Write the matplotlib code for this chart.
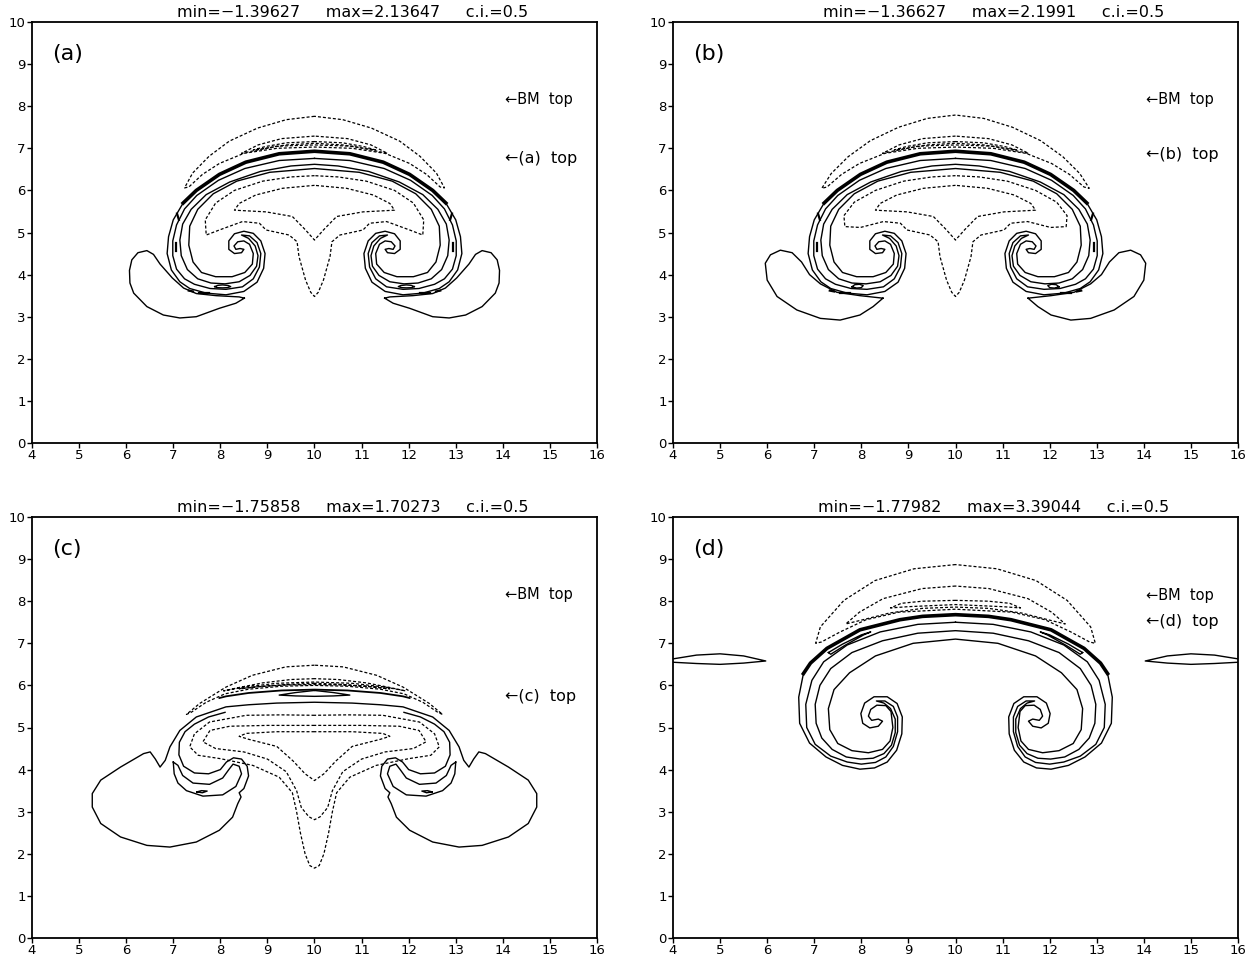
import matplotlib
matplotlib.use("Agg")
import matplotlib.pyplot as plt

XC = 10.0  # symmetry axis of every panel

# ---------------- panel titles / labels ----------------
panel_tags = ["(a)", "(b)", "(c)", "(d)"]
panel_min = ["−1.39627", "−1.36627", "−1.75858", "−1.77982"]
panel_max = ["2.13647", "2.1991", "1.70273", "3.39044"]
panel_ci = ["0.5", "0.5", "0.5", "0.5"]
bm_top_y = [8.15, 8.15, 8.15, 8.14]
own_top_y = [6.75, 6.85, 5.74, 7.52]
x_ticks = list(range(4, 17))
y_ticks = list(range(0, 11))

# ---------------- panel (a) ----------------
# closed symmetric contours: left half from centre (outer) round to centre (inner)
A_P = [(10, 6.93), (9.25, 6.87), (8.54, 6.67), (7.98, 6.38), (7.49, 6.0), (7.21, 5.7),
       (7.0, 5.3), (6.9, 4.9), (6.87, 4.5), (6.96, 4.11), (7.14, 3.83), (7.35, 3.67),
       (7.7, 3.56), (8.12, 3.52), (8.5, 3.6), (8.78, 3.82), (8.92, 4.15), (8.95, 4.5),
       (8.86, 4.8), (8.7, 4.98), (8.5, 5.03), (8.3, 4.97), (8.18, 4.8), (8.18, 4.6),
       (8.3, 4.5), (8.45, 4.52), (8.5, 4.6), (8.42, 4.62), (8.33, 4.6), (8.29, 4.68),
       (8.37, 4.78), (8.5, 4.8), (8.62, 4.72), (8.7, 4.5), (8.68, 4.25), (8.52, 4.05),
       (8.25, 3.95), (7.9, 3.95), (7.6, 4.05), (7.42, 4.3), (7.33, 4.7), (7.35, 5.15),
       (7.52, 5.55), (7.85, 5.92), (8.35, 6.22), (9.05, 6.43), (10, 6.52)]
A_Q = [(10, 6.76), (9.25, 6.71), (8.52, 6.52), (7.96, 6.24), (7.5, 5.88), (7.24, 5.56),
       (7.07, 5.18), (6.99, 4.8), (6.99, 4.45), (7.07, 4.13), (7.24, 3.9), (7.45, 3.77),
       (7.78, 3.67), (8.12, 3.65), (8.47, 3.71), (8.7, 3.9), (8.83, 4.18), (8.86, 4.5),
       (8.78, 4.76), (8.62, 4.92), (8.45, 4.94), (8.6, 4.86), (8.74, 4.68), (8.8, 4.45),
       (8.77, 4.2), (8.63, 3.98), (8.4, 3.83), (8.1, 3.78), (7.8, 3.8), (7.52, 3.9),
       (7.3, 4.12), (7.17, 4.45), (7.14, 4.82), (7.2, 5.2), (7.38, 5.55), (7.7, 5.9),
       (8.2, 6.2), (8.85, 6.45), (9.5, 6.58), (10, 6.62)]
A_THICK_N = 6
A_D1 = [(10, 7.76), (9.4, 7.68), (8.79, 7.48), (8.19, 7.17), (7.76, 6.81), (7.41, 6.41),
        (7.24, 6.06), (7.33, 6.08), (7.62, 6.38), (7.98, 6.64), (8.5, 6.88), (9.2, 7.0),
        (10, 7.03)]
A_D2 = [(10, 7.29), (9.3, 7.23), (8.8, 7.08), (8.45, 6.88), (8.62, 6.92), (9.2, 7.05),
        (10, 7.08)]
A_D3 = [(10, 7.16), (9.4, 7.13), (8.95, 7.04), (8.7, 6.96), (8.9, 6.99), (9.4, 7.08),
        (10, 7.12)]
A_STEM = [(10, 6.35), (9.5, 6.32), (8.9, 6.22), (8.3, 6.0), (7.9, 5.7), (7.68, 5.3),
          (7.70, 4.94), (7.98, 5.06), (8.47, 5.26), (8.83, 5.22), (8.97, 5.06),
          (9.46, 4.94), (9.63, 4.78), (9.67, 4.43), (9.81, 3.87), (9.92, 3.58), (10, 3.48)]
A_CUP = [(10, 6.12), (9.32, 6.05), (8.75, 5.89), (8.4, 5.69), (8.30, 5.53), (8.97, 5.49),
         (9.53, 5.38), (9.81, 5.06), (10, 4.82)]
# left-side features (mirrored to the right)
A_WING = [(8.51, 3.44), (8.40, 3.47), (7.91, 3.5), (7.49, 3.55), (7.22, 3.68), (6.98, 3.92),
          (6.72, 4.25), (6.58, 4.48), (6.44, 4.57), (6.25, 4.52), (6.12, 4.35), (6.07, 4.1),
          (6.08, 3.8), (6.16, 3.56), (6.44, 3.24), (6.79, 3.04), (7.14, 2.97), (7.49, 3.0),
          (7.98, 3.2), (8.33, 3.32), (8.51, 3.44)]
A_BLOB = [(7.88, 3.715), (7.95, 3.745), (8.05, 3.755), (8.17, 3.74), (8.22, 3.715),
          (8.15, 3.69), (8.05, 3.685), (7.93, 3.69), (7.88, 3.715)]
A_DASH_BITS = [[(7.33, 3.62), (7.42, 3.6)], [(7.55, 3.57), (7.75, 3.57)],
               [(7.08, 5.45), (7.12, 5.3)], [(7.05, 4.75), (7.05, 4.55)]]

# ---------------- panel (b) ----------------
B_D1 = [(10, 7.79), (9.4, 7.71), (8.79, 7.5), (8.19, 7.18), (7.72, 6.8), (7.36, 6.4),
        (7.16, 6.05), (7.27, 6.08), (7.58, 6.38), (7.96, 6.64), (8.5, 6.88), (9.2, 7.0),
        (10, 7.03)]
B_STEM = [(10, 6.35), (9.5, 6.32), (8.9, 6.22), (8.3, 6.0), (7.85, 5.72), (7.63, 5.4),
          (7.65, 5.14), (7.98, 5.12), (8.47, 5.26), (8.83, 5.22), (8.97, 5.06),
          (9.46, 4.94), (9.63, 4.78), (9.67, 4.43), (9.81, 3.87), (9.92, 3.58), (10, 3.48)]
B_WING = [(8.46, 3.44), (7.97, 3.5), (7.48, 3.58), (7.13, 3.78), (6.9, 4.0), (6.73, 4.3),
          (6.53, 4.52), (6.28, 4.58), (6.07, 4.47), (5.96, 4.27), (6.0, 3.87), (6.21, 3.48),
          (6.63, 3.16), (7.13, 2.96), (7.55, 2.92), (7.97, 3.04), (8.25, 3.24), (8.46, 3.44)]
B_BLOB = [(7.8, 3.71), (7.86, 3.76), (7.96, 3.77), (8.04, 3.74), (8.0, 3.69), (7.9, 3.68),
          (7.8, 3.71)]

# ---------------- panel (c) ----------------
# open symmetric stroke: left half from centre outwards
C_MAIN = [(10, 5.6), (9.2, 5.58), (8.6, 5.54), (8.12, 5.49), (7.49, 5.25), (7.14, 4.93),
          (6.93, 4.54), (6.83, 4.22), (6.72, 4.06), (6.62, 4.25), (6.51, 4.42), (6.37, 4.38),
          (5.88, 4.06), (5.46, 3.75), (5.28, 3.43), (5.28, 3.11), (5.46, 2.72), (5.88, 2.4),
          (6.44, 2.2), (6.93, 2.16), (7.49, 2.28), (7.98, 2.56), (8.26, 2.87), (8.37, 3.19),
          (8.44, 3.35), (8.4, 3.45), (8.5, 3.55), (8.6, 3.85), (8.57, 4.08), (8.45, 4.25),
          (8.28, 4.28), (8.13, 4.18), (8.0, 4.0), (7.75, 3.9), (7.45, 3.92), (7.22, 4.08),
          (7.12, 4.35), (7.13, 4.65), (7.25, 4.9), (7.45, 5.08), (7.75, 5.25), (8.1, 5.36)]
C_UPPER = [(10, 5.9), (9.3, 5.88), (8.6, 5.82), (8.12, 5.74), (7.98, 5.7)]
C_LENS = [(10, 5.88), (9.6, 5.83), (9.25, 5.77), (9.6, 5.75), (10, 5.74)]
C_CRESCENT = [(7.0, 4.18), (7.02, 3.9), (7.1, 3.68), (7.28, 3.5), (7.63, 3.37), (8.05, 3.4),
              (8.33, 3.6), (8.45, 3.9), (8.4, 4.08), (8.27, 4.13), (8.18, 4.0), (8.05, 3.8),
              (7.77, 3.65), (7.42, 3.68), (7.2, 3.86), (7.1, 4.1), (7.0, 4.18)]
C_BLOB = [(7.5, 3.47), (7.6, 3.5), (7.72, 3.49), (7.62, 3.45), (7.5, 3.47)]
C_D1 = [(10, 6.48), (9.39, 6.44), (8.68, 6.24), (8.12, 5.96), (7.56, 5.57), (7.28, 5.31),
        (7.38, 5.36), (7.7, 5.6), (8.1, 5.8), (8.6, 5.91), (9.3, 5.98), (10, 6.0)]
C_D2 = [(10, 6.16), (9.5, 6.14), (8.9, 6.06), (8.4, 5.95), (8.07, 5.87), (8.5, 5.96),
        (9.2, 6.05), (10, 6.08)]
C_D3 = [(10, 6.05), (9.5, 6.03), (8.9, 5.98), (8.4, 5.92), (8.8, 5.97), (9.4, 6.01),
        (10, 6.02)]
C_STEM = [(10, 5.29), (9.3, 5.3), (8.55, 5.29), (7.77, 5.13), (7.45, 4.85), (7.35, 4.54),
          (7.53, 4.34), (8.0, 4.26), (8.69, 4.1), (9.25, 3.82), (9.53, 3.45), (9.62, 3.0),
          (9.7, 2.5), (9.8, 2.0), (9.9, 1.72), (10, 1.66)]
C_MID = [(10, 5.05), (9.0, 5.05), (8.2, 5.03), (7.78, 4.93), (7.63, 4.66), (7.9, 4.5),
         (8.5, 4.42), (9.0, 4.25), (9.4, 3.95), (9.62, 3.5), (9.72, 3.1), (9.88, 2.88),
         (10, 2.81)]
C_INNER = [(10, 4.9), (9.2, 4.9), (8.55, 4.86), (8.4, 4.79), (8.6, 4.72), (9.2, 4.55),
           (9.55, 4.2), (9.8, 3.9), (10, 3.74)]

# ---------------- panel (d) ----------------
D_P = [(10, 7.68), (9.3, 7.64), (8.82, 7.56), (7.97, 7.32), (7.27, 6.88), (6.92, 6.53),
       (6.77, 6.28), (6.67, 5.72), (6.69, 5.1), (6.9, 4.63), (7.25, 4.3), (7.6, 4.1),
       (7.97, 4.01), (8.28, 4.04), (8.55, 4.18), (8.75, 4.46), (8.86, 4.85), (8.87, 5.25),
       (8.76, 5.57), (8.55, 5.73), (8.27, 5.73), (8.07, 5.58), (7.99, 5.33), (8.03, 5.1),
       (8.18, 4.99), (8.36, 5.03), (8.45, 5.15), (8.36, 5.2), (8.22, 5.17), (8.15, 5.27),
       (8.2, 5.43), (8.33, 5.53), (8.52, 5.52), (8.63, 5.38), (8.67, 5.0), (8.61, 4.68),
       (8.45, 4.48), (8.15, 4.4), (7.8, 4.45), (7.5, 4.62), (7.33, 4.95), (7.3, 5.45),
       (7.42, 5.9), (7.75, 6.3), (8.3, 6.7), (9.1, 7.0), (10, 7.1)]
D_Q = [(10, 7.5), (9.2, 7.45), (8.4, 7.27), (7.7, 6.96), (7.2, 6.56), (6.95, 6.12),
       (6.82, 5.55), (6.84, 5.0), (7.02, 4.6), (7.35, 4.32), (7.7, 4.18), (8.0, 4.13),
       (8.3, 4.17), (8.52, 4.3), (8.68, 4.55), (8.77, 4.9), (8.77, 5.25), (8.68, 5.5),
       (8.5, 5.63), (8.32, 5.63), (8.48, 5.58), (8.62, 5.45), (8.72, 5.2), (8.72, 4.88),
       (8.64, 4.58), (8.48, 4.38), (8.25, 4.27), (7.98, 4.25), (7.68, 4.3), (7.38, 4.48),
       (7.16, 4.75), (7.04, 5.1), (7.02, 5.55), (7.12, 6.0), (7.35, 6.4), (7.8, 6.78),
       (8.45, 7.06), (9.2, 7.24), (10, 7.3)]
D_THICK_N = 7
D_LENS = [(7.3, 6.78), (7.6, 6.98), (8.0, 7.2), (8.2, 7.27), (8.05, 7.2), (7.65, 6.95),
          (7.35, 6.74), (7.3, 6.78)]
D_SIDE = [(4.0, 6.63), (4.5, 6.72), (5.0, 6.75), (5.5, 6.7), (5.97, 6.58), (5.5, 6.53),
          (5.0, 6.5), (4.5, 6.52), (4.0, 6.55)]
D_D1 = [(10, 8.87), (9.12, 8.77), (8.29, 8.49), (7.63, 8.02), (7.13, 7.39), (7.03, 7.0),
        (7.15, 7.03), (7.55, 7.27), (8.1, 7.56), (8.8, 7.74), (10, 7.81)]
D_D2 = [(10, 8.36), (9.29, 8.3), (8.46, 8.06), (7.96, 7.74), (7.67, 7.46), (8.0, 7.55),
        (8.6, 7.72), (9.3, 7.83), (10, 7.86)]
D_D3 = [(10, 8.02), (9.3, 8.0), (8.85, 7.95), (8.62, 7.84), (9.0, 7.87), (9.6, 7.9),
        (10, 7.92)]

# ---------------- helpers ----------------
def mirror(pts):
    return [(2 * XC - x, y) for x, y in pts]


def sym_closed(half):
    return half + mirror(half)[::-1][1:]


def sym_open(half):
    return half[::-1] + mirror(half)[1:]


SOLID = dict(color="black", lw=1.0, solid_joinstyle="round")
DASHED = dict(color="black", lw=0.9, dashes=(2.4, 1.6))


def draw(ax, pts, **kw):
    ax.plot([p[0] for p in pts], [p[1] for p in pts], **kw)


def draw_pair(ax, pts, **kw):
    draw(ax, pts, **kw)
    draw(ax, mirror(pts), **kw)


# ---------------- figure ----------------
W, H = 1252, 959
fig = plt.figure(figsize=(W / 100, H / 100), dpi=100)
boxes = [(32, 22), (673, 22), (32, 517), (673, 517)]
AW, AH = 565, 421
axes = []
for (l, t) in boxes:
    ax = fig.add_axes([l / W, 1 - (t + AH) / H, AW / W, AH / H])
    axes.append(ax)

TICK_FONT = ["Liberation Sans Narrow", "DejaVu Sans"]
for i, ax in enumerate(axes):
    ax.set_xlim(4, 16)
    ax.set_ylim(0, 10)
    ax.set_xticks(x_ticks)
    ax.set_yticks(y_ticks)
    ax.tick_params(direction="out", length=3.5, width=1.0, labelsize=9.5, pad=1.0,
                   top=False, right=False)
    for lab in ax.get_xticklabels() + ax.get_yticklabels():
        lab.set_family(TICK_FONT)
    for s in ax.spines.values():
        s.set_linewidth(1.3)
    ax.text(0.567, 1.004, f"min={panel_min[i]}     max={panel_max[i]}     c.i.={panel_ci[i]}",
            transform=ax.transAxes, ha="center", va="bottom", fontsize=11.5,
            family="DejaVu Sans")
    ax.text(0.035, 0.925, panel_tags[i], transform=ax.transAxes, ha="left", va="center",
            fontsize=16, family="DejaVu Sans")
    ax.text(14.05, bm_top_y[i], "←BM  top", ha="left", va="center", fontsize=10.5,
            family="DejaVu Sans")
    ax.text(14.05, own_top_y[i], "←" + panel_tags[i] + "  top", ha="left", va="center",
            fontsize=11.5, family="DejaVu Sans")

# panel (a) and (b): cap, curls and wings
for ax, d1, stem, wing, blob in [(axes[0], A_D1, A_STEM, A_WING, A_BLOB),
                                 (axes[1], B_D1, B_STEM, B_WING, B_BLOB)]:
    draw(ax, sym_closed(A_P), **SOLID)
    draw(ax, sym_closed(A_Q), **SOLID)
    draw(ax, sym_open(A_P[:A_THICK_N]), color="black", lw=2.6)
    for loop in (d1, A_D2, A_D3, stem, A_CUP):
        draw(ax, sym_closed(loop), **DASHED)
    draw_pair(ax, wing, **SOLID)
    draw_pair(ax, blob, **SOLID)
    for bit in A_DASH_BITS:
        draw_pair(ax, bit, color="black", lw=1.6)

# panel (c)
ax = axes[2]
draw(ax, sym_open(C_MAIN), **SOLID)
draw(ax, sym_open(C_UPPER), color="black", lw=1.3)
draw(ax, sym_closed(C_LENS), **SOLID)
draw_pair(ax, C_CRESCENT, **SOLID)
draw_pair(ax, C_BLOB, **SOLID)
for loop in (C_D1, C_D2, C_D3, C_STEM, C_MID, C_INNER):
    draw(ax, sym_closed(loop), **DASHED)

# panel (d)
ax = axes[3]
draw(ax, sym_closed(D_P), **SOLID)
draw(ax, sym_closed(D_Q), **SOLID)
draw(ax, sym_open(D_P[:D_THICK_N]), color="black", lw=2.6)
draw_pair(ax, D_LENS, **SOLID)
draw_pair(ax, D_SIDE, **SOLID)
for loop in (D_D1, D_D2, D_D3):
    draw(ax, sym_closed(loop), **DASHED)

fig.savefig("out.png", dpi=100)
